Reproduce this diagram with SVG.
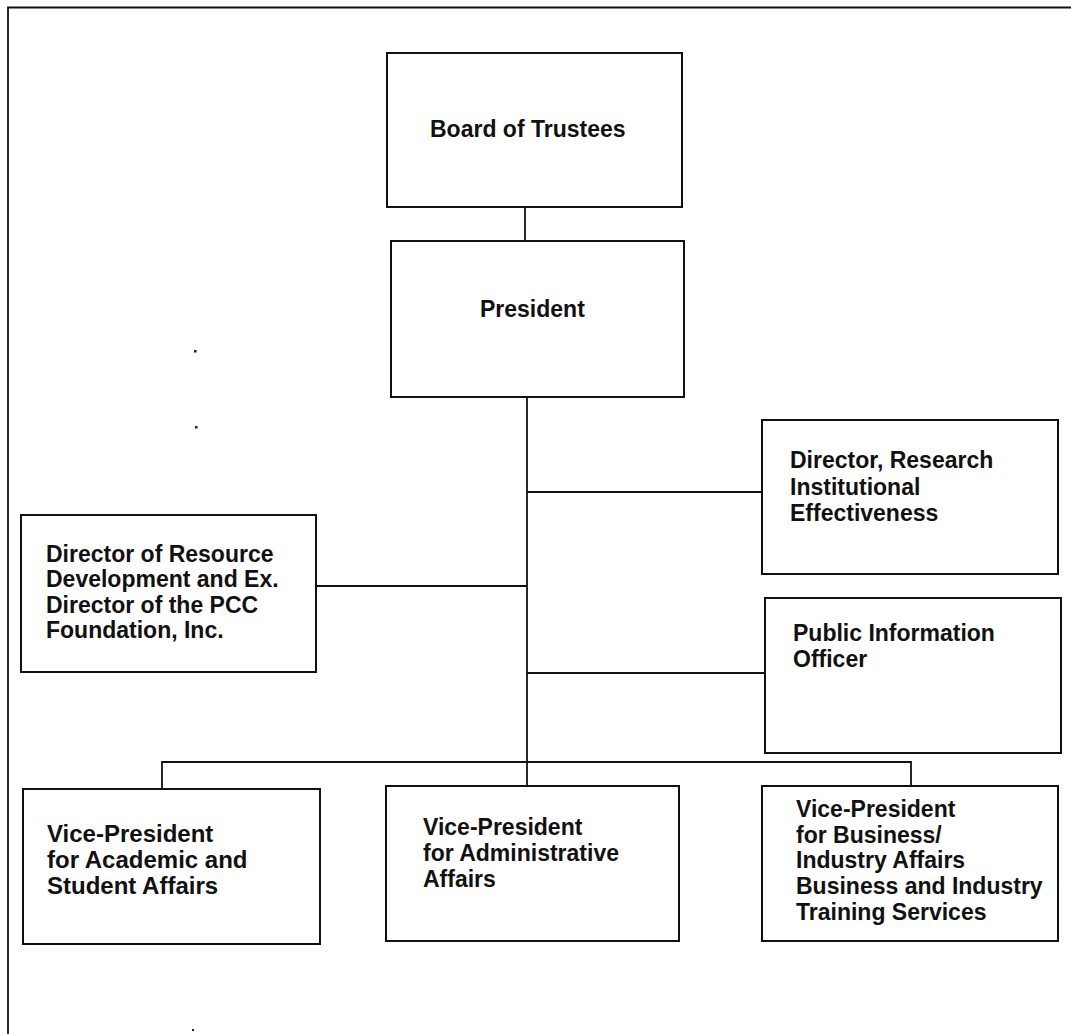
<svg xmlns="http://www.w3.org/2000/svg" width="1071" height="1034" viewBox="0 0 1071 1034">
<style>
.box{fill:#fff;stroke:#111;stroke-width:2}
.ln{fill:none;stroke:#111;stroke-width:1.8}
.t{font-family:"Liberation Sans",Arial,Helvetica,sans-serif;font-weight:bold;font-size:23px;fill:#111}
.dot{fill:#222}
</style>
<rect width="1071" height="1034" fill="#fff"/>
<path class="ln" d="M8,1034 V7.5 H1071" stroke-width="2.2"/>
<g id="connectors">
<path class="ln" d="M525,207 V241"/>
<path class="ln" d="M527,397 V786"/>
<path class="ln" d="M527,492 H762"/>
<path class="ln" d="M316,586 H527"/>
<path class="ln" d="M527,673 H765"/>
<path class="ln" d="M162,789 V762 H911 V786"/>
</g>
<g id="board">
<rect class="box" x="387" y="53" width="295" height="154"/>
<text class="t" x="430" y="137">Board of Trustees</text>
</g>
<g id="president">
<rect class="box" x="391" y="241" width="293" height="156"/>
<text class="t" x="480" y="317">President</text>
</g>
<g id="dir-research">
<rect class="box" x="762" y="420" width="296" height="154"/>
<text class="t" x="790"><tspan x="790" y="468">Director, Research</tspan><tspan x="790" y="495">Institutional</tspan><tspan x="790" y="521">Effectiveness</tspan></text>
</g>
<g id="dir-resource">
<rect class="box" x="21" y="515" width="295" height="157"/>
<text class="t"><tspan x="46" y="562">Director of Resource</tspan><tspan x="46" y="587">Development and Ex.</tspan><tspan x="46" y="613">Director of the PCC</tspan><tspan x="46" y="638">Foundation, Inc.</tspan></text>
</g>
<g id="public-info">
<rect class="box" x="765" y="598" width="296" height="155"/>
<text class="t"><tspan x="793" y="641">Public Information</tspan><tspan x="793" y="667">Officer</tspan></text>
</g>
<g id="vp-academic">
<rect class="box" x="23" y="789" width="297" height="155"/>
<text class="t" style="font-size:24px"><tspan x="47" y="842">Vice-President</tspan><tspan x="47" y="868">for Academic and</tspan><tspan x="47" y="894">Student Affairs</tspan></text>
</g>
<g id="vp-admin">
<rect class="box" x="386" y="786" width="293" height="155"/>
<text class="t"><tspan x="423" y="835">Vice-President</tspan><tspan x="423" y="861">for Administrative</tspan><tspan x="423" y="887">Affairs</tspan></text>
</g>
<g id="vp-business">
<rect class="box" x="762" y="786" width="296" height="155"/>
<text class="t"><tspan x="796" y="817">Vice-President</tspan><tspan x="796" y="843">for Business/</tspan><tspan x="796" y="868">Industry Affairs</tspan><tspan x="796" y="894">Business and Industry</tspan><tspan x="796" y="920">Training Services</tspan></text>
</g>
<rect class="dot" x="194" y="350" width="2.5" height="2.5"/>
<rect class="dot" x="195" y="426" width="2.5" height="2.5"/>
<rect class="dot" x="192" y="1029" width="2" height="2"/>
</svg>
